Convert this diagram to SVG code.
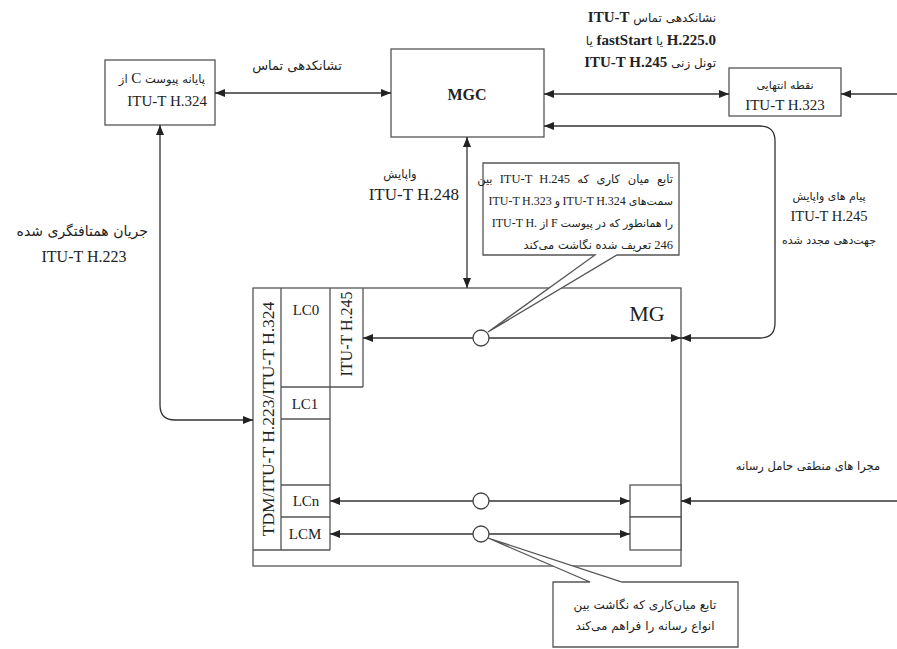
<svg xmlns="http://www.w3.org/2000/svg" width="897" height="649" viewBox="0 0 897 649">
<style>
.ln{stroke:#333;stroke-width:1.3;fill:none}
.bx{fill:#fff;stroke:#555;stroke-width:1.3}
.in{stroke:#555;stroke-width:1.3;fill:none}
.ci{fill:#fff;stroke:#444;stroke-width:1.3}
.lat{font-family:"Liberation Serif",serif;fill:#222}
.fa{font-family:"DejaVu Sans",sans-serif;fill:#222}
.mix{font-family:"Liberation Serif","DejaVu Sans",serif;fill:#222}
</style>
<defs>
<marker id="ah" viewBox="0 0 10 8" refX="10" refY="4" markerWidth="10" markerHeight="8" markerUnits="userSpaceOnUse" orient="auto-start-reverse">
<path d="M0,0 L10,4 L0,8 z" fill="#222"/>
</marker>
</defs>
<rect width="897" height="649" fill="#fff"/>

<g id="terminal-h324">
<rect class="bx" x="105" y="60" width="110" height="65"/>
<text class="mix" x="205" y="83" direction="rtl" unicode-bidi="embed" text-anchor="start" font-size="12"><tspan class="fa" font-size="11.5">پایانه پیوست </tspan><tspan font-size="15"> C </tspan><tspan class="fa" font-size="11.5">از</tspan></text>
<text class="lat" x="207" y="106" text-anchor="end" font-size="15">ITU-T H.324</text>
</g>

<g id="lbl-call-signalling">
<text class="fa" x="297" y="70" text-anchor="middle" font-size="13" fill="#333">تشانکدهی تماس</text>
</g>

<g id="mgc">
<rect class="bx" x="391" y="49" width="153" height="88"/>
<text class="lat" x="467" y="100" text-anchor="middle" font-size="16" font-weight="bold">MGC</text>
</g>

<g id="lbl-h225">
<text class="mix" x="716" y="22" direction="rtl" unicode-bidi="embed" text-anchor="start" font-size="12"><tspan class="fa" font-size="12">نشانکدهی تماس </tspan><tspan font-size="15" font-weight="bold"> ITU-T</tspan></text>
<text class="mix" x="716" y="45" direction="rtl" unicode-bidi="embed" text-anchor="start" font-size="12"><tspan font-size="15" font-weight="bold">H.225.0 </tspan><tspan class="fa" font-size="12">یا</tspan><tspan font-size="15" font-weight="bold"> fastStart </tspan><tspan class="fa" font-size="12">یا</tspan></text>
<text class="mix" x="716" y="67" direction="rtl" unicode-bidi="embed" text-anchor="start" font-size="12"><tspan class="fa" font-size="12">تونل زنی </tspan><tspan font-size="15" font-weight="bold"> ITU-T H.245</tspan></text>
</g>

<g id="endpoint-h323">
<rect class="bx" x="729" y="68" width="112" height="48"/>
<text class="fa" x="785" y="89" text-anchor="middle" font-size="11">نقطه انتهایی</text>
<text class="lat" x="785" y="110" text-anchor="middle" font-size="15">ITU-T H.323</text>
</g>

<g id="lbl-h248">
<text class="fa" x="400" y="178" text-anchor="middle" font-size="11.5" fill="#444">واپایش</text>
<text class="lat" x="459" y="200" text-anchor="end" font-size="17" fill="#333">ITU-T H.248</text>
</g>

<g id="lbl-h223">
<text class="fa" x="148" y="236" text-anchor="end" font-size="14">جریان همتافتگری شده</text>
<text class="lat" x="84" y="262" text-anchor="middle" font-size="16" fill="#333">ITU-T H.223</text>
</g>

<g id="lbl-h245-redirect">
<text class="fa" x="829" y="200" text-anchor="middle" font-size="11" fill="#333">پیام های واپایش</text>
<text class="lat" x="829" y="221" text-anchor="middle" font-size="14.5" fill="#222">ITU-T H.245</text>
<text class="fa" x="829" y="244" text-anchor="middle" font-size="11">جهت‌دهی مجدد شده</text>
</g>

<g id="lbl-media">
<text class="fa" x="808" y="470" text-anchor="middle" font-size="11.5" fill="#333">مجرا های منطقی حامل رسانه</text>
</g>

<g id="mg">
<rect class="bx" x="253" y="288" width="428" height="278"/>
<path class="in" d="M281,288 V550 M330,288 V550 M253,550 H330 M363,288 V387 M281,387 H363 M281,419 H330 M281,485 H330 M281,517 H330"/>
<rect class="bx" x="630" y="485" width="51" height="32"/>
<rect class="bx" x="630" y="517" width="51" height="33"/>
<text class="lat" x="647" y="321" text-anchor="middle" font-size="22">MG</text>
<text class="lat" transform="translate(274,419) rotate(-90)" text-anchor="middle" font-size="17.5">TDM/ITU-T H.223/ITU-T H.324</text>
<text class="lat" transform="translate(352,334) rotate(-90)" text-anchor="middle" font-size="16">ITU-T H.245</text>
<text class="lat" x="306" y="315" text-anchor="middle" font-size="15">LC0</text>
<text class="lat" x="305" y="409" text-anchor="middle" font-size="15">LC1</text>
<text class="lat" x="306" y="506" text-anchor="middle" font-size="15">LCn</text>
<text class="lat" x="305" y="539" text-anchor="middle" font-size="15">LCM</text>
</g>

<g id="connectors">
<path class="ln" d="M215,93 H391" marker-start="url(#ah)" marker-end="url(#ah)"/>
<path class="ln" d="M544,94 H729" marker-start="url(#ah)" marker-end="url(#ah)"/>
<path class="ln" d="M897,94 H841" marker-end="url(#ah)"/>
<path class="ln" d="M467,137 V288" marker-start="url(#ah)" marker-end="url(#ah)"/>
<path class="ln" d="M681,338 H760 Q775,338 775,323 V141 Q775,126 760,126 H544" marker-start="url(#ah)" marker-end="url(#ah)"/>
<path class="ln" d="M160,125 V405 Q160,420 175,420 H253" marker-start="url(#ah)" marker-end="url(#ah)"/>
<path class="ln" d="M363,338 H681" marker-start="url(#ah)" marker-end="url(#ah)"/>
<path class="ln" d="M330,501 H630" marker-start="url(#ah)" marker-end="url(#ah)"/>
<path class="ln" d="M330,534 H630" marker-start="url(#ah)" marker-end="url(#ah)"/>
<path class="ln" d="M897,501 H681" marker-end="url(#ah)"/>
</g>

<g id="iwf-circles">
<circle class="ci" cx="481" cy="338" r="8"/>
<circle class="ci" cx="481" cy="501" r="8"/>
<circle class="ci" cx="481" cy="534" r="8"/>
</g>

<g id="callout-h245">
<path class="bx" d="M483,163 H679 V255 H617 L488,332 L595,255 H483 Z"/>
<text class="mix" x="673" y="183" direction="rtl" unicode-bidi="embed" text-anchor="start" font-size="12" word-spacing="4"><tspan class="fa" font-size="11.5">تابع میان کاری که</tspan><tspan font-size="12.5"> ITU-T H.245 </tspan><tspan class="fa" font-size="11.5">بین</tspan></text>
<text class="mix" x="673" y="205" direction="rtl" unicode-bidi="embed" text-anchor="start" font-size="12" word-spacing="-0.5"><tspan class="fa" font-size="11">سمت‌های </tspan><tspan font-size="12">ITU-T H.324 </tspan><tspan class="fa" font-size="11">و </tspan><tspan font-size="12">ITU-T H.323</tspan></text>
<text class="mix" x="673" y="227" direction="rtl" unicode-bidi="embed" text-anchor="start" font-size="12" word-spacing="-0.5"><tspan class="fa" font-size="11">را همانطور که در پیوست </tspan><tspan font-size="12">F </tspan><tspan class="fa" font-size="11">از </tspan><tspan font-size="12">ITU-T H.&#x200E;</tspan></text>
<text class="mix" x="673" y="249" direction="rtl" unicode-bidi="embed" text-anchor="start" font-size="12"><tspan font-size="12.5">246 </tspan><tspan class="fa" font-size="11.5">تعریف شده نگاشت  می‌کند</tspan></text>
</g>

<g id="callout-media">
<path class="bx" d="M553,582 H590 L488,538 L622,582 H738 V647 H553 Z"/>
<text class="fa" x="645" y="609" text-anchor="middle" font-size="12">تابع میان‌کاری که نگاشت بین</text>
<text class="fa" x="645" y="630" text-anchor="middle" font-size="12">انواع رسانه را فراهم می‌کند</text>
</g>
</svg>
